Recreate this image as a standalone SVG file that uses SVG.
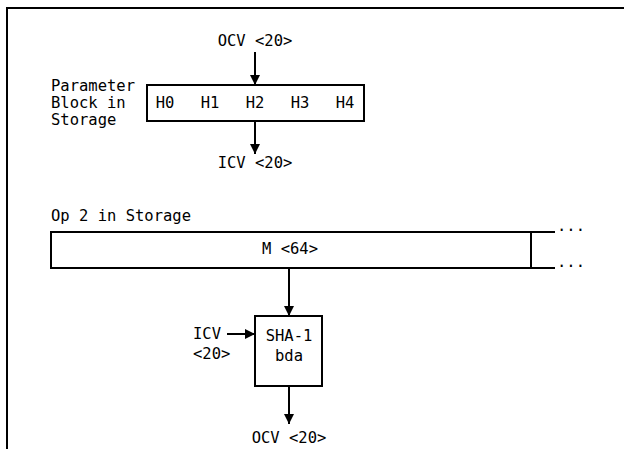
<svg xmlns="http://www.w3.org/2000/svg" width="624" height="449" viewBox="0 0 624 449">
<defs>
<marker id="ah" viewBox="0 0 10 10" refX="10" refY="5" markerWidth="10" markerHeight="10" markerUnits="userSpaceOnUse" orient="auto">
<path d="M0,0 L10,5 L0,10 Z" fill="#000"/>
</marker>
<style>
text{font-family:"DejaVu Sans Mono","Liberation Mono",monospace;font-size:15.5px;fill:#000}
.c{text-anchor:middle}
.box{fill:#fff;stroke:#000;stroke-width:2}
.ln{fill:none;stroke:#000;stroke-width:2}
.ar{fill:none;stroke:#000;stroke-width:2;marker-end:url(#ah)}
</style>
</defs>
<rect width="624" height="449" fill="#fff"/>
<g id="frame">
<path class="ln" d="M7,449 V8 H624"/>
</g>
<g id="param-label">
<text x="51" y="91">Parameter</text>
<text x="51" y="108">Block in</text>
<text x="51" y="125">Storage</text>
</g>
<g id="ocv-top"><text class="c" x="255" y="46">OCV &lt;20&gt;</text></g>
<g id="param-block">
<rect class="box" x="147" y="85" width="217" height="36"/>
<text class="c" x="165" y="108">H0</text>
<text class="c" x="210" y="108">H1</text>
<text class="c" x="255" y="108">H2</text>
<text class="c" x="300" y="108">H3</text>
<text class="c" x="345" y="108">H4</text>
</g>
<g id="icv-top"><text class="c" x="255" y="168">ICV &lt;20&gt;</text></g>
<g id="op2-label"><text x="51" y="221">Op 2 in Storage</text></g>
<g id="m-block">
<rect class="box" x="51" y="232" width="480" height="36"/>
<path class="ln" d="M531,232 H555 M531,268 H555"/>
<text class="c" x="290" y="254">M &lt;64&gt;</text>
<text x="557" y="231">...</text>
<text x="557" y="267">...</text>
</g>
<g id="sha1">
<rect class="box" x="255" y="316" width="67" height="70"/>
<text class="c" x="289" y="341">SHA-1</text>
<text class="c" x="289" y="361">bda</text>
</g>
<g id="icv-in">
<text x="193" y="339">ICV</text>
<text x="193" y="359">&lt;20&gt;</text>
</g>
<g id="ocv-out"><text class="c" x="289" y="443">OCV &lt;20&gt;</text></g>
<g id="connectors">
<path class="ar" d="M255,52 V85"/>
<path class="ar" d="M255,121 V154"/>
<path class="ar" d="M289,268 V316"/>
<path class="ar" d="M227,334 H255"/>
<path class="ar" d="M289,386 V424"/>
</g>
</svg>
